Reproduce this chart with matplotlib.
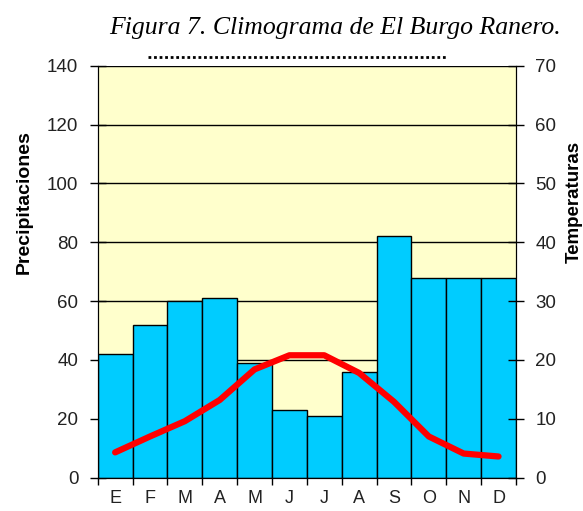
import numpy as np
import matplotlib.pyplot as plt
from matplotlib.lines import Line2D

meses = ['E', 'F', 'M', 'A', 'M', 'J', 'J', 'A', 'S', 'O', 'N', 'D']
precip = [42, 52, 60, 61, 39, 23, 21, 36, 82, 68, 68, 68]
temp = [4.3, 7.0, 9.6, 13.2, 18.4, 20.8, 20.8, 17.8, 12.9, 7.0, 4.1, 3.6]

plt.rcParams['font.family'] = ['Liberation Sans', 'DejaVu Sans']

fig = plt.figure(figsize=(5.83, 5.11), dpi=100)
ax = fig.add_axes([0.1676, 0.0652, 0.7174, 0.8062])
ax.set_facecolor('#FFFFCC')

x = np.arange(len(meses))
ax.set_axisbelow(True)
ax.yaxis.grid(True, color='black', lw=1)
ax.bar(x, precip, width=1.0, color='#00CCFF', edgecolor='black', lw=1, zorder=2)
ax.set_xlim(-0.5, 11.5)
ax.set_ylim(0, 140)
ax.set_yticks(range(0, 141, 20))
ax.set_xticks(np.arange(-0.5, 12, 1))
ax.set_xticklabels([])
ax.set_xticks(x, minor=True)
ax.set_xticklabels(meses, minor=True, fontsize=13, color='#222222')
ax.tick_params(axis='x', which='minor', length=0, pad=9)
ax.tick_params(axis='x', which='major', direction='out', length=5, width=1)
ax.tick_params(axis='y', direction='inout', length=12, width=1, labelsize=13.5,
               labelcolor='#222222', pad=8)
ax.set_ylabel('Precipitaciones', fontsize=14, fontweight='bold')
ax.yaxis.set_label_coords(-0.155, 0.669)
ax.spines['top'].set_visible(False)

ax2 = ax.twinx()
ax2.plot(x, temp, color='#FF0000', lw=4.5, solid_capstyle='round',
         solid_joinstyle='round', zorder=3)
ax2.set_ylim(0, 70)
ax2.set_yticks(range(0, 71, 10))
ax2.tick_params(axis='y', direction='inout', length=12, width=1, labelsize=13.5,
                labelcolor='#222222', pad=8)
ax2.set_ylabel('Temperaturas', fontsize=13.5, fontweight='bold')
ax2.yaxis.set_label_coords(1.118, 0.669)
ax2.spines['top'].set_visible(False)

fig.text(0.575, 0.945, 'Figura 7. Climograma de El Burgo Ranero.',
         ha='center', va='center', fontsize=18.5, style='italic',
         family=['Liberation Serif', 'DejaVu Serif'])
fig.add_artist(Line2D([148 / 583, 448 / 583], [1 - 57 / 511] * 2,
                      color='black', lw=2, ls=(0, (1, 1))))

fig.savefig('out.png', dpi=100)
